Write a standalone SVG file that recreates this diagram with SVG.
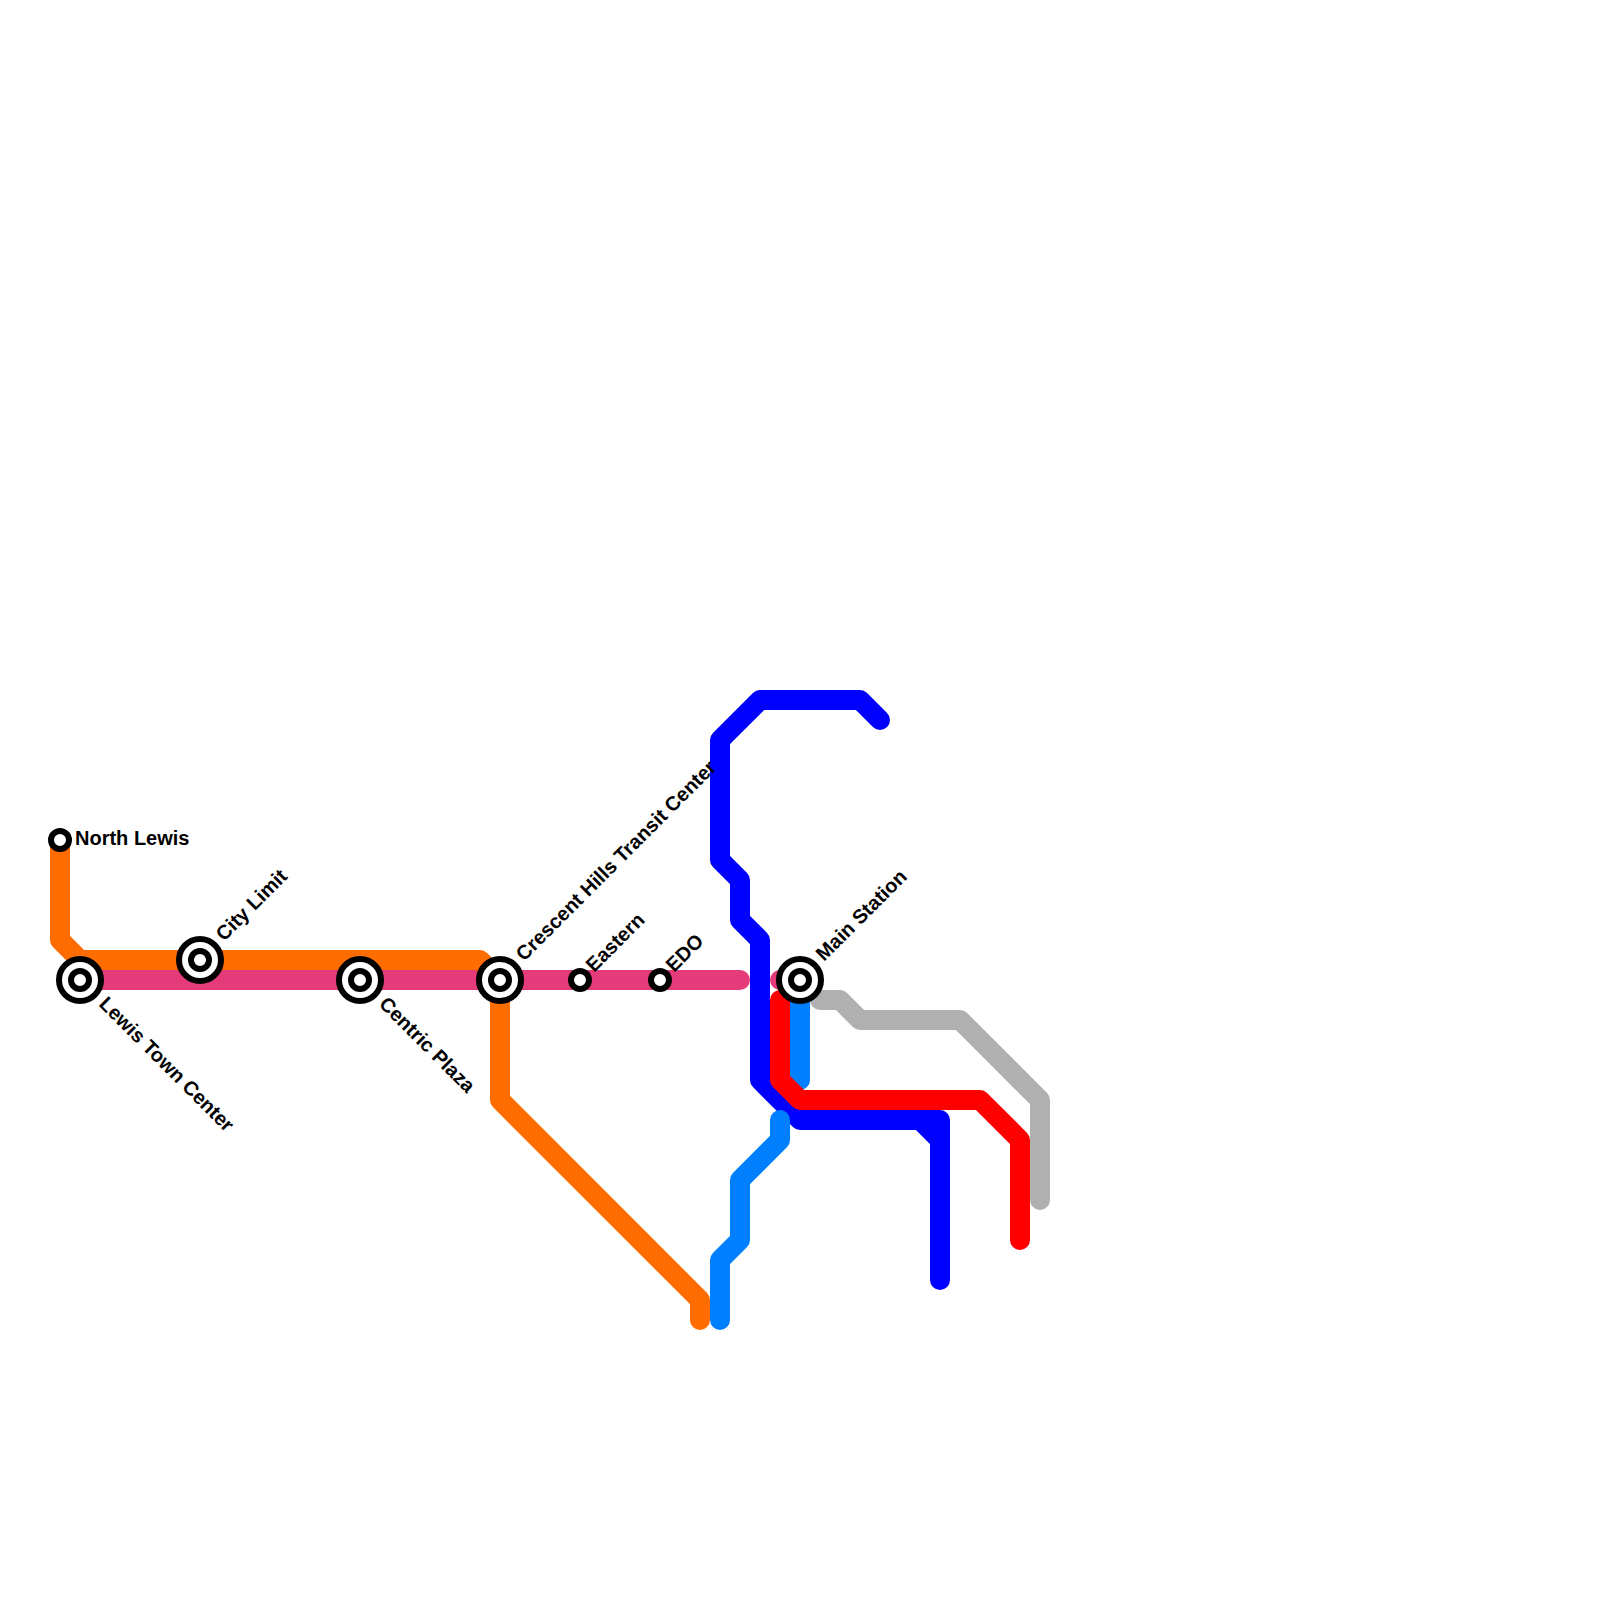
<svg xmlns="http://www.w3.org/2000/svg" width="1600" height="1600" viewBox="0 0 1600 1600">
<style>
.l{fill:none;stroke-width:20;stroke-linecap:round;stroke-linejoin:round}
.o{fill:#fff;stroke:#000;stroke-width:6}
.t{font-family:"Liberation Sans",Arial,sans-serif;font-weight:bold;font-size:20px;fill:#000}
</style>
<rect width="1600" height="1600" fill="#fff"/>
<g id="connectors">
<path class="l" stroke="#b0b0b0" d="M820,1000H840L860,1020H960L1040,1100V1200"/>
<path class="l" stroke="#e63b7a" d="M80,980H740M780,980H800"/>
<path class="l" stroke="#ff6c00" d="M60,840V940L80,960H480L500,980V1100L700,1300V1320"/>
<path class="l" stroke="#0000ff" d="M880,720L860,700H760L720,740V860L740,880V920L760,940V1080L800,1120H940V1280M920,1120L940,1140"/>
<path class="l" stroke="#0080ff" d="M800,980V1080M780,1120V1140L740,1180V1240L720,1260V1320"/>
<path class="l" stroke="#ff0000" d="M780,1000V1080L800,1100H980L1020,1140V1240"/>
</g>
<g id="north-lewis"><circle class="o" cx="60" cy="840" r="9"/><text class="t" x="75" y="845">North Lewis</text></g>
<g id="lewis-town-center"><circle class="o" cx="80" cy="980" r="21"/><circle class="o" cx="80" cy="980" r="9"/><text class="t" transform="translate(98,1005) rotate(45)">Lewis Town Center</text></g>
<g id="city-limit"><circle class="o" cx="200" cy="960" r="21"/><circle class="o" cx="200" cy="960" r="9"/><text class="t" transform="translate(224,942) rotate(-45)">City Limit</text></g>
<g id="centric-plaza"><circle class="o" cx="360" cy="980" r="21"/><circle class="o" cx="360" cy="980" r="9"/><text class="t" transform="translate(378,1005) rotate(45)">Centric Plaza</text></g>
<g id="crescent-hills"><circle class="o" cx="500" cy="980" r="21"/><circle class="o" cx="500" cy="980" r="9"/><text class="t" transform="translate(524,962) rotate(-45)">Crescent Hills Transit Center</text></g>
<g id="eastern"><circle class="o" cx="580" cy="980" r="9"/><text class="t" transform="translate(594,973) rotate(-45)">Eastern</text></g>
<g id="edo"><circle class="o" cx="660" cy="980" r="9"/><text class="t" transform="translate(674,973) rotate(-45)">EDO</text></g>
<g id="main-station"><circle class="o" cx="800" cy="980" r="21"/><circle class="o" cx="800" cy="980" r="9"/><text class="t" transform="translate(824,962) rotate(-45)">Main Station</text></g>
</svg>
